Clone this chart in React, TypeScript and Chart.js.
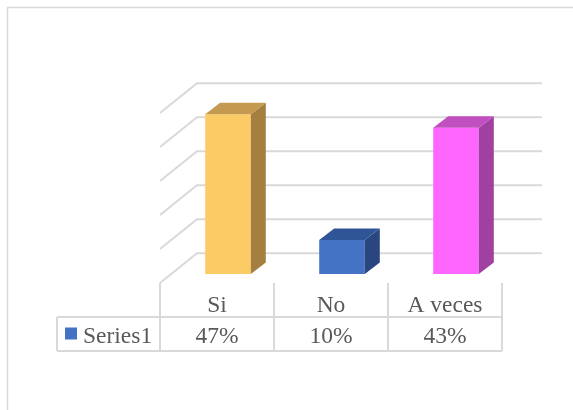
import React, { useEffect, useRef } from 'react';
import { Chart, registerables } from 'chart.js';
Chart.register(...registerables);

const categories = ['Si', 'No', 'A veces'];
const values = [47, 10, 43];
const valueLabels = ['47%', '10%', '43%'];
const seriesName = 'Series1';
const gridValues = [0, 10, 20, 30, 40, 50];
const frontColors = ['#FDCB66', '#4472C4', '#FF66FF'];
const sideColors = ['#A47F3F', '#2A4680', '#A040A0'];
const topColors = ['#C39A4F', '#305597', '#C04FC0'];
const legendColor = '#4472C4';

const W = 573;
const H = 410;
const FRONT = { dx: -11, dy: 9 };
const BACK = { dx: 26, dy: -20.7 };
const BAR_DEPTH = { dx: 15, dy: -11.5 };
const GRID = '#D9D9D9';
const TEXT = '#595959';
const FONT = '23.5px "Liberation Serif", "Times New Roman", serif';
const ROW_H = 34;
const TABLE_LEFT = 57;

const decor = {
  id: 'decor',
  beforeDraw(chart: any) {
    const ctx = chart.ctx;
    ctx.save();
    ctx.fillStyle = '#ffffff';
    ctx.fillRect(0, 0, W, H);
    ctx.strokeStyle = GRID;
    ctx.lineWidth = 1.5;
    ctx.strokeRect(7.5, 7.5, W + 20, H + 20);
    ctx.restore();
  },
  beforeDatasetsDraw(chart: any) {
    const { ctx, chartArea, scales } = chart;
    const y = scales.y;
    ctx.save();
    ctx.strokeStyle = GRID;
    ctx.lineWidth = 2;
    for (const v of gridValues) {
      const py = y.getPixelForValue(v);
      ctx.beginPath();
      ctx.moveTo(chartArea.left + FRONT.dx, py + FRONT.dy);
      ctx.lineTo(chartArea.left + BACK.dx, py + BACK.dy);
      ctx.lineTo(chartArea.right + BACK.dx + 3, py + BACK.dy);
      ctx.stroke();
    }
    ctx.restore();
  },
  afterDatasetsDraw(chart: any) {
    const { ctx, scales } = chart;
    const xs = scales.x;
    const ys = scales.y;
    const meta = chart.getDatasetMeta(0);
    ctx.save();
    meta.data.forEach((bar: any, i: number) => {
      const { x, y, base, width } = bar.getProps(['x', 'y', 'base', 'width'], true);
      const l = x - width / 2;
      const r = x + width / 2;
      ctx.fillStyle = sideColors[i];
      ctx.beginPath();
      ctx.moveTo(r, y);
      ctx.lineTo(r + BAR_DEPTH.dx, y + BAR_DEPTH.dy);
      ctx.lineTo(r + BAR_DEPTH.dx, base + BAR_DEPTH.dy);
      ctx.lineTo(r, base);
      ctx.closePath();
      ctx.fill();
      ctx.fillStyle = topColors[i];
      ctx.beginPath();
      ctx.moveTo(l, y);
      ctx.lineTo(l + BAR_DEPTH.dx, y + BAR_DEPTH.dy);
      ctx.lineTo(r + BAR_DEPTH.dx, y + BAR_DEPTH.dy);
      ctx.lineTo(r, y);
      ctx.closePath();
      ctx.fill();
    });

    // data table
    const c0 = xs.getPixelForValue(0);
    const c1 = xs.getPixelForValue(1);
    const half = (c1 - c0) / 2;
    const bounds: number[] = [];
    categories.forEach((_, i) => bounds.push(xs.getPixelForValue(i) - half + FRONT.dx));
    bounds.push(xs.getPixelForValue(categories.length - 1) + half + FRONT.dx);
    const floorY = ys.getPixelForValue(0) + FRONT.dy;
    const r1 = floorY + ROW_H;
    const r2 = floorY + 2 * ROW_H;
    const last = bounds[bounds.length - 1];

    ctx.strokeStyle = GRID;
    ctx.lineWidth = 2;
    ctx.beginPath();
    bounds.forEach((bx) => {
      ctx.moveTo(bx, floorY);
      ctx.lineTo(bx, r2);
    });
    ctx.moveTo(TABLE_LEFT, r1);
    ctx.lineTo(last, r1);
    ctx.moveTo(TABLE_LEFT, r2);
    ctx.lineTo(last, r2);
    ctx.moveTo(TABLE_LEFT, r1);
    ctx.lineTo(TABLE_LEFT, r2);
    ctx.stroke();

    ctx.fillStyle = TEXT;
    ctx.font = FONT;
    ctx.textAlign = 'center';
    ctx.textBaseline = 'alphabetic';
    categories.forEach((c, i) => {
      const cx = (bounds[i] + bounds[i + 1]) / 2;
      ctx.fillText(c, cx, floorY + 28.5);
      ctx.fillText(valueLabels[i], cx, r1 + 25.5);
    });
    ctx.fillStyle = legendColor;
    ctx.fillRect(TABLE_LEFT + 8, r1 + 10.5, 12, 12);
    ctx.fillStyle = TEXT;
    ctx.textAlign = 'left';
    ctx.fillText(seriesName, TABLE_LEFT + 26, r1 + 25.5);
    ctx.restore();
  },
};

export default function App() {
  const ref = useRef<HTMLCanvasElement>(null);
  useEffect(() => {
    if (!ref.current) return;
    const chart = new Chart(ref.current, {
      type: 'bar',
      data: {
        labels: categories,
        datasets: [
          {
            label: seriesName,
            data: values,
            backgroundColor: frontColors,
            borderWidth: 0,
            barPercentage: 0.4,
            categoryPercentage: 1,
          },
        ],
      },
      options: {
        responsive: false,
        animation: false,
        devicePixelRatio: 1,
        layout: { padding: { left: 171, right: 60, top: 104, bottom: 136 } },
        plugins: { legend: { display: false }, tooltip: { enabled: false }, title: { display: false } },
        scales: {
          x: { display: false, offset: true },
          y: { display: false, min: 0, max: 50 },
        },
      },
      plugins: [decor],
    });
    return () => chart.destroy();
  }, []);
  return (
    <div style={{ position: 'absolute', left: 0, top: 0, width: W, height: H }}>
      <canvas ref={ref} width={W} height={H} style={{ display: 'block', width: W, height: H }} />
    </div>
  );
}
